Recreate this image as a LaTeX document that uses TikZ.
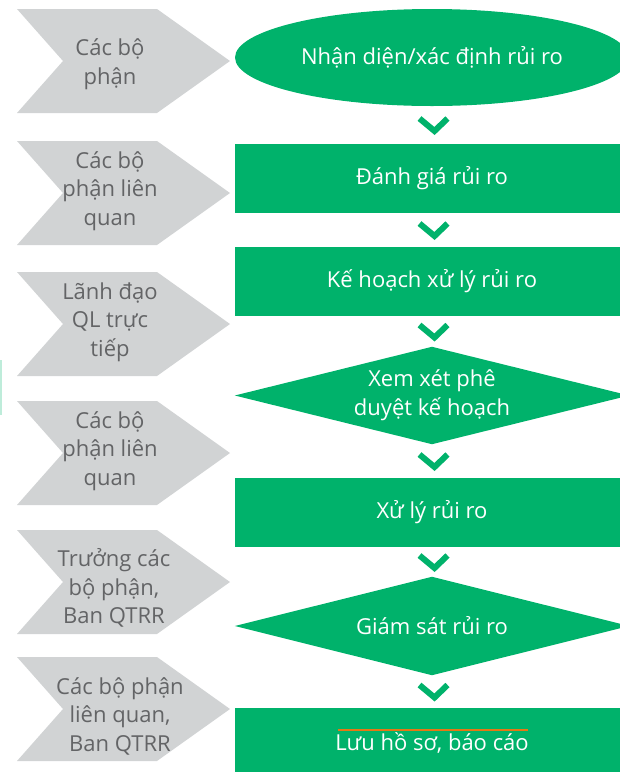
\documentclass[tikz,border=0pt]{standalone}
\usepackage{fontspec}
\setmainfont{Open Sans}
\usetikzlibrary{shapes.geometric,calc}
\definecolor{grn}{RGB}{0,178,107}
\definecolor{chev}{RGB}{209,211,212}
\definecolor{chevtxt}{RGB}{99,100,102}
\definecolor{mint}{RGB}{190,236,218}
\definecolor{uline}{RGB}{230,120,20}
\begin{document}
\begin{tikzpicture}[x=1pt,y=-1pt,
  chevron/.pic={\fill[chev] (-95,-52) -- (45,-52) -- (118,0) -- (45,52) -- (-95,52) -- (-49,0) -- cycle;},
  lbl/.style={align=center,text=chevtxt,font=\fontsize{22}{28.5}\selectfont,inner sep=0pt},
  gtxt/.style={align=center,text=white,font=\fontsize{22}{29}\selectfont,inner sep=0pt},
  gbox/.style={fill=grn,minimum width=394pt,minimum height=69pt,inner sep=0pt},
  gell/.style={ellipse,fill=grn,minimum width=394pt,minimum height=97pt,inner sep=0pt},
  gdia/.style={minimum width=394pt,inner sep=0pt},
  vmark/.style={draw=grn,line width=6pt,miter limit=10},
]
\useasboundingbox (0,0) rectangle (620,772);
\begin{scope}
\clip (0,0) rectangle (620,772);
% left chevrons
\foreach \cy in {61,193,324,453,582,709}{ \pic at (112,\cy) {chevron}; }
\node[lbl] (l1) at (110,64) {Các bộ\\phận};
\node[lbl] (l2) at (110,191) {Các bộ\\phận liên\\quan};
\node[lbl] (l3) at (110,322) {Lãnh đạo\\QL trực\\tiếp};
\node[lbl] (l4) at (110,451) {Các bộ\\phận liên\\quan};
\node[lbl] (l5) at (114,588) {Trưởng các\\bộ phận,\\Ban QTRR};
\node[lbl] (l6) at (120,716) {Các bộ phận\\liên quan,\\Ban QTRR};
% green flow
\node[gell] (s1) at (432,57.5) {};
\node[gtxt] at (s1.center) {Nhận diện/xác định rủi ro};
\node[gbox] (s2) at (432,178.5) {};
\node[gtxt] at (s2.center) {Đánh giá rủi ro};
\node[gbox] (s3) at (432,281.5) {};
\node[gtxt] at (s3.center) {Kế hoạch xử lý rủi ro};
\node[gdia,minimum height=97pt] (s4) at (432,395.5) {};
\fill[grn] (s4.west) -- (s4.north) -- (s4.east) -- (s4.south) -- cycle;
\node[gtxt] at (s4.center) {Xem xét phê\\duyệt kế hoạch};
\node[gbox] (s5) at (432,512.5) {};
\node[gtxt] at (s5.center) {Xử lý rủi ro};
\node[gdia,minimum height=98pt] (s6) at (432,626) {};
\fill[grn] (s6.west) -- (s6.north) -- (s6.east) -- (s6.south) -- cycle;
\node[gtxt] at (s6.center) {Giám sát rủi ro};
\node[gbox] (s7) at (432,742.5) {};
\node[gtxt] (t7) at (s7.center) {Lưu hồ sơ, báo cáo};
\draw[uline,line width=1.3pt] ($(s7.center)+(-94,-12.5)$) -- ($(s7.center)+(96,-12.5)$);
% down marks between steps
\foreach \a/\b in {s1/s2,s2/s3,s3/s4,s4/s5,s5/s6,s6/s7}{
  \path ($(\a.south)!0.5!(\b.north)$) coordinate (m);
  \draw[vmark] ($(m)+(-12.5,-6.5)$) -- ($(m)+(2.5,6)$) -- ($(m)+(15.5,-6.5)$);
}
% thin mint mark at left edge
\draw[mint,line width=2pt] (1,360) -- (1,415);
\end{scope}
\end{tikzpicture}
\end{document}
